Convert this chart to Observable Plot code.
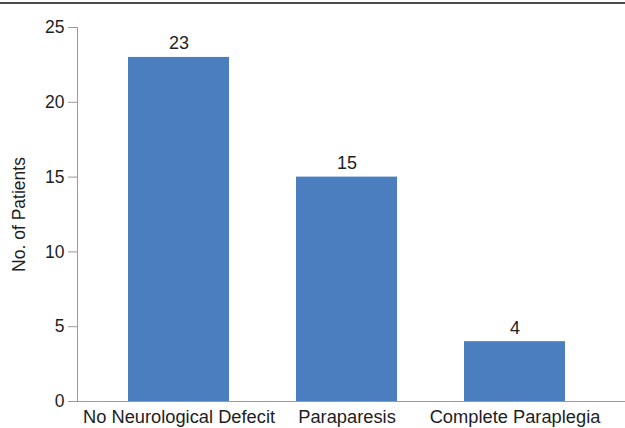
<!DOCTYPE html>
<html>
<head>
<meta charset="utf-8">
<script src="https://cdn.jsdelivr.net/npm/d3@7"></script>
<script src="https://cdn.jsdelivr.net/npm/@observablehq/plot@0.6"></script>
<style>
  html, body { margin: 0; padding: 0; background: #fff; }
  #chart { position: relative; width: 625px; height: 428px; }
  #chart .rule-top { position: absolute; left: 0; top: 2px; width: 625px; height: 2px; background: #4a4a4a; }
  #chart svg { display: block; }
</style>
</head>
<body>
<div id="chart"><div class="rule-top"></div></div>
<script>
// Neurological status at presentation
const categories = ["No Neurological Defecit", "Paraparesis", "Complete Paraplegia"];
const patients = [23, 15, 4];
const yTicks = [0, 5, 10, 15, 20, 25];
const yLabel = "No. of Patients";

const data = categories.map((c, i) => ({category: c, count: patients[i]}));

const font = "'Liberation Sans', Arial, Helvetica, sans-serif";
const axisGray = "#9a9a9a";
const ink = "#1e1e1e";

const chart = Plot.plot({
  width: 625,
  height: 428,
  marginLeft: 77,
  marginRight: 0,
  marginTop: 27,
  marginBottom: 27,
  style: {fontFamily: font, fontSize: "18px", color: ink, background: "#fff"},
  x: {domain: categories, range: [59, 633], padding: 0.4},
  y: {domain: [0, 25], ticks: yTicks},
  marks: [
    Plot.barY(data, {x: "category", y: "count", fill: "#4a7ebf"}),
    Plot.text(data, {
      x: "category", y: "count", text: d => String(d.count),
      lineAnchor: "bottom", dy: -8, fill: ink, fontSize: 18
    }),
    Plot.axisY({
      ticks: yTicks, tickSize: 9, tickPadding: 4, label: null,
      stroke: axisGray, fill: ink, fontSize: 17.5
    }),
    Plot.axisX({tickSize: 0, tickPadding: 8, label: null, fill: ink, fontSize: 18.3}),
    Plot.frame({anchor: "left", stroke: axisGray}),
    Plot.ruleY([0], {stroke: axisGray}),
    Plot.text([yLabel], {
      frameAnchor: "left", textAnchor: "middle", rotate: -90, dx: -58,
      fill: ink, fontSize: 17.5
    })
  ]
});

document.getElementById("chart").appendChild(chart);
</script>
</body>
</html>
